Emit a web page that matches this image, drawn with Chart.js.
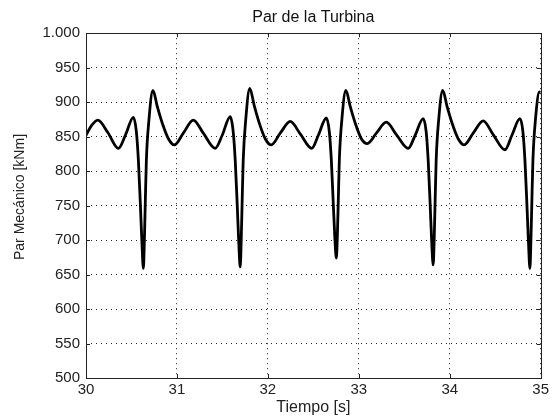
<!DOCTYPE html>
<html>
<head>
<meta charset="utf-8">
<script src="https://cdn.jsdelivr.net/npm/chart.js@4/dist/chart.umd.min.js"></script>
<style>
  body { margin: 0; background: #fff; }
  #wrap { width: 552px; height: 418px; }
</style>
</head>
<body>
<div id="wrap"><canvas id="chart" width="552" height="418"></canvas></div>
<script>
// Datos
const tiempo = [
  30.000, 30.060, 30.130, 30.240, 30.356, 30.433, 30.521, 30.554, 30.576, 30.598, 30.614, 30.631, 30.642,
  30.653, 30.664, 30.692, 30.736, 30.785, 30.840, 30.906, 30.972, 31.070, 31.180, 31.290, 31.420,
  31.498, 31.586, 31.619, 31.641, 31.663, 31.679, 31.696, 31.707, 31.718, 31.729, 31.757, 31.801,
  31.850, 31.905, 31.971, 32.037, 32.136, 32.246, 32.356, 32.482,
  32.555, 32.643, 32.676, 32.698, 32.720, 32.736, 32.753, 32.764, 32.775, 32.786, 32.814, 32.858,
  32.907, 32.962, 33.028, 33.094, 33.193, 33.303, 33.413, 33.543,
  33.620, 33.708, 33.741, 33.763, 33.785, 33.801, 33.818, 33.829, 33.840, 33.851, 33.879, 33.923,
  33.972, 34.027, 34.093, 34.159, 34.258, 34.368, 34.478, 34.607,
  34.684, 34.772, 34.805, 34.827, 34.849, 34.865, 34.882, 34.893, 34.904, 34.915, 34.943, 34.987, 35.000
];
const parMecanico = [
  852, 866, 874, 856, 833, 852, 878, 857, 816, 751, 700, 659, 700,
  760, 816, 874, 917, 893, 869, 847, 838, 855, 874, 855, 833,
  852, 879, 857, 816, 751, 700, 661, 700, 760, 816, 875, 920,
  895, 870, 847, 838, 855, 872, 854, 833,
  852, 877, 857, 816, 751, 705, 674, 705, 760, 816, 875, 917,
  893, 869, 847, 840, 855, 871, 853, 833,
  852, 876, 857, 816, 751, 700, 664, 700, 760, 816, 875, 917,
  893, 869, 847, 838, 855, 873, 853, 831,
  852, 876, 857, 816, 751, 700, 659, 700, 760, 816, 875, 915, 914
];
const xTicks = [30, 31, 32, 33, 34, 35];
const yTicks = [500, 550, 600, 650, 700, 750, 800, 850, 900, 950, 1000];

const FONT = "'Liberation Sans', Arial, sans-serif";

// Marco y marcas internas estilo MATLAB
const marcoPlugin = {
  id: 'marco',
  afterDraw(chart) {
    const { ctx, chartArea: a, scales } = chart;
    ctx.save();
    ctx.strokeStyle = '#222';
    ctx.lineWidth = 1;
    ctx.strokeRect(Math.round(a.left) + 0.5, Math.round(a.top) + 0.5,
      Math.round(a.right - a.left), Math.round(a.bottom - a.top));
    ctx.beginPath();
    xTicks.forEach(t => {
      const px = Math.round(scales.x.getPixelForValue(t)) + 0.5;
      ctx.moveTo(px, a.bottom); ctx.lineTo(px, a.bottom - 4);
      ctx.moveTo(px, a.top); ctx.lineTo(px, a.top + 4);
    });
    yTicks.forEach(v => {
      const py = Math.round(scales.y.getPixelForValue(v)) + 0.5;
      ctx.moveTo(a.left, py); ctx.lineTo(a.left + 4, py);
      ctx.moveTo(a.right, py); ctx.lineTo(a.right - 4, py);
    });
    ctx.stroke();

    // título del eje Y
    ctx.translate(20, 197);
    ctx.rotate(-Math.PI / 2);
    ctx.fillStyle = '#222';
    ctx.font = '14px ' + FONT;
    ctx.textAlign = 'center';
    ctx.textBaseline = 'middle';
    ctx.fillText('Par Mecánico [kNm]', 0, 0);
    ctx.restore();
  }
};

const ctx = document.getElementById('chart').getContext('2d');
new Chart(ctx, {
  type: 'line',
  data: {
    datasets: [{
      data: tiempo.map((t, i) => ({ x: t, y: parMecanico[i] })),
      borderColor: '#000',
      borderWidth: 2.8,
      pointRadius: 0,
      cubicInterpolationMode: 'monotone',
      fill: false
    }]
  },
  options: {
    responsive: false,
    animation: false,
    layout: { padding: { left: 0, right: 11, top: 0, bottom: 0 } },
    plugins: {
      legend: { display: false },
      tooltip: { enabled: false },
      title: {
        display: true,
        text: 'Par de la Turbina',
        fullSize: false,
        color: '#111',
        font: { family: FONT, size: 16, weight: 'normal', lineHeight: 1.2 },
        padding: { top: 8, bottom: 6 }
      }
    },
    scales: {
      x: {
        type: 'linear',
        min: 30,
        max: 35,
        afterBuildTicks: s => { s.ticks = xTicks.map(v => ({ value: v })); },
        afterFit: s => { s.height = 40; },
        ticks: { color: '#222', padding: 3, font: { family: FONT, size: 15 } },
        grid: { color: '#222', lineWidth: 1, drawTicks: false },
        border: { display: false, dash: [1, 4] },
        title: {
          display: true,
          text: 'Tiempo [s]',
          color: '#222',
          font: { family: FONT, size: 16, lineHeight: 1.2 },
          padding: { top: 0, bottom: 1 }
        }
      },
      y: {
        min: 500,
        max: 1000,
        afterBuildTicks: s => { s.ticks = yTicks.map(v => ({ value: v })); },
        afterFit: s => { s.width = 86; },
        ticks: {
          color: '#222',
          padding: 6,
          font: { family: FONT, size: 15 },
          callback: v => v >= 1000 ? String(v).replace(/\B(?=(\d{3})+$)/, '.') : String(v)
        },
        grid: { color: '#222', lineWidth: 1, drawTicks: false },
        border: { display: false, dash: [1, 4] }
      }
    }
  },
  plugins: [marcoPlugin]
});
</script>
</body>
</html>
